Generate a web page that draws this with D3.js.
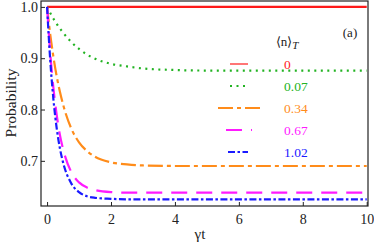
<!DOCTYPE html>
<html>
<head>
<meta charset="utf-8">
<script src="https://cdn.jsdelivr.net/npm/d3@7"></script>
<style>
  body { margin: 0; background: white; }
</style>
</head>
<body>
<svg id="main-svg"></svg>
<script>
const svg = d3.select("#main-svg");

// FIXED
CANVAS_WIDTH = 374
CANVAS_HEIGHT = 244
SERIF = "'Liberation Serif', 'Times New Roman', Times, serif"

// data (gamma t, probability)
const times = [0, 0.1, 0.2, 0.3, 0.4, 0.5, 0.75, 1, 1.25, 1.5, 2, 2.5, 3, 4, 5, 6, 8, 10];
const p0    = [1, 1, 1, 1, 1, 1, 1, 1, 1, 1, 1, 1, 1, 1, 1, 1, 1, 1];
const p007  = [1, 0.988, 0.977, 0.967, 0.958, 0.95, 0.932, 0.918, 0.907, 0.899, 0.889, 0.884, 0.880, 0.877, 0.876, 0.876, 0.876, 0.876];
const p034  = [1, 0.946, 0.902, 0.865, 0.835, 0.81, 0.764, 0.736, 0.719, 0.708, 0.697, 0.693, 0.691, 0.69, 0.69, 0.69, 0.69, 0.69];
const p067  = [1, 0.909, 0.841, 0.79, 0.751, 0.723, 0.679, 0.658, 0.648, 0.643, 0.639, 0.638, 0.638, 0.638, 0.638, 0.638, 0.638, 0.638];
const p102  = [1, 0.895, 0.819, 0.764, 0.725, 0.697, 0.657, 0.639, 0.631, 0.628, 0.626, 0.625, 0.625, 0.625, 0.625, 0.625, 0.625, 0.625];

const legendLabels = ["0", "0.07", "0.34", "0.67", "1.02"];
const colors = ["#ff1a1a", "#22b322", "#ff8c1a", "#ff1aff", "#1a1aff"];
const dashes = ["none", "2,4.5", "15,4,4,4", "16,9", "7,2.5,2.5,2.5"];
const series = [p0, p007, p034, p067, p102];

const xTicks = [0, 2, 4, 6, 8, 10];
const yTicks = [0.7, 0.8, 0.9, 1.0];

svg.attr("width", CANVAS_WIDTH).attr("height", CANVAS_HEIGHT);

const x = d3.scaleLinear().domain([-0.19, 10.04]).range([41, 368]);
const y = d3.scaleLinear().domain([0.612, 1.0115]).range([206, 1]);

// curves
const line = d3.line()
  .x((d, i) => x(times[i]))
  .y(d => y(d))
  .curve(d3.curveMonotoneX);

const plot = svg.append("g");
plot.append("clipPath").attr("id", "clip")
  .append("rect").attr("x", 41).attr("y", 1).attr("width", 327).attr("height", 205);

series.forEach((s, i) => {
  plot.append("path")
    .attr("d", line(s))
    .attr("fill", "none")
    .attr("stroke", colors[i])
    .attr("stroke-width", 2.2)
    .attr("stroke-dasharray", dashes[i])
    .attr("clip-path", "url(#clip)");
});

// frame
svg.append("rect")
  .attr("x", 41).attr("y", 1)
  .attr("width", 327).attr("height", 205)
  .attr("fill", "none")
  .attr("stroke", "#222")
  .attr("stroke-width", 1.2);

// bottom axis, ticks inside
const xAxis = svg.append("g").attr("transform", "translate(0,206)");
xAxis.call(d3.axisBottom(x).tickValues(d3.range(0, 10.01, 0.5)).tickSize(-2).tickFormat(""));
xAxis.call(d3.axisBottom(x).tickValues(xTicks).tickSize(-4).tickPadding(8).tickFormat(d3.format("d")));
xAxis.selectAll(".domain").remove();
xAxis.selectAll("line").attr("stroke", "#222");

// left axis, ticks inside
const yAxis = svg.append("g").attr("transform", "translate(41,0)");
yAxis.call(d3.axisLeft(y).tickValues(d3.range(0.62, 1.001, 0.02)).tickSize(-2).tickFormat(""));
yAxis.call(d3.axisLeft(y).tickValues(yTicks).tickSize(-4).tickPadding(3).tickFormat(d3.format(".1f")));
yAxis.selectAll(".domain").remove();
yAxis.selectAll("line").attr("stroke", "#222");

[xAxis, yAxis].forEach(ax => {
  ax.attr("font-family", null);
  ax.selectAll("text")
    .style("font-family", SERIF)
    .style("font-size", "14px")
    .attr("fill", "#222");
});

// axis titles
svg.append("text")
  .attr("transform", "translate(16,103) rotate(-90)")
  .attr("text-anchor", "middle")
  .style("font-family", SERIF)
  .style("font-size", "15.5px")
  .attr("fill", "#222")
  .text("Probability");

svg.append("text")
  .attr("x", 200).attr("y", 239)
  .attr("text-anchor", "middle")
  .style("font-family", SERIF)
  .style("font-size", "15px")
  .attr("fill", "#222")
  .text("γt");

// panel label
svg.append("text")
  .attr("x", 350).attr("y", 37)
  .attr("text-anchor", "middle")
  .style("font-family", SERIF)
  .style("font-size", "13px")
  .attr("fill", "#222")
  .text("(a)");

// legend
const title = svg.append("text")
  .attr("x", 287).attr("y", 46)
  .attr("text-anchor", "middle")
  .style("font-family", SERIF)
  .style("font-size", "13px")
  .attr("fill", "#222");
title.append("tspan").text("⟨n⟩");
title.append("tspan").attr("font-style", "italic").style("font-size", "11px").attr("dy", 3).text("T");

const legendX0 = [230, 230, 218, 226, 228];
const legendX1 = [248, 248, 262, 252, 248];
legendLabels.forEach((lab, i) => {
  const ly = 64 + i * 22;
  svg.append("line")
    .attr("x1", legendX0[i]).attr("x2", legendX1[i])
    .attr("y1", ly).attr("y2", ly)
    .attr("stroke", colors[i])
    .attr("stroke-width", i == 0 ? 1.2 : 2)
    .attr("stroke-dasharray", dashes[i]);
  svg.append("text")
    .attr("x", 284).attr("y", ly + 4.5)
    .style("font-family", SERIF)
    .style("font-size", "13.5px")
    .attr("fill", colors[i])
    .text(lab);
});
</script>
</body>
</html>
